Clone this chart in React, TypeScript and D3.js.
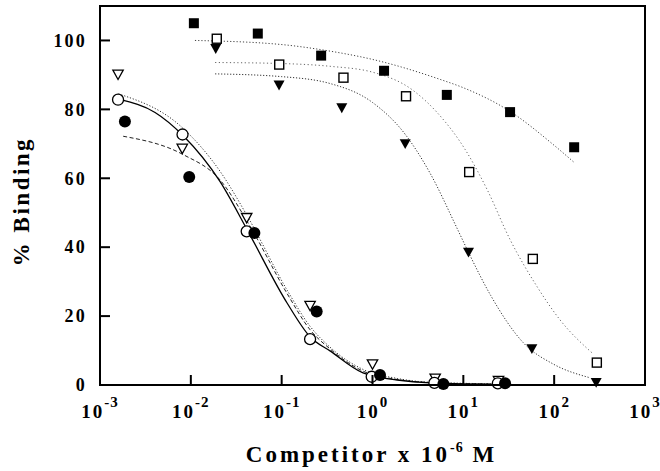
import React from "react";
import * as d3 from "d3";

const sqFilledX = [0.0108, 0.0546, 0.272, 1.34, 6.58, 32.7, 166];
const sqFilledY = [105, 102, 95.6, 91.2, 84.2, 79.2, 69];
const sqOpenX = [0.0193, 0.094, 0.479, 2.34, 11.6, 58.2, 295];
const sqOpenY = [100.5, 93, 89.2, 83.8, 61.8, 36.6, 6.5];
const triFilledX = [0.0188, 0.0936, 0.459, 2.29, 11.4, 56.8, 290];
const triFilledY = [97.6, 87, 80.4, 70, 38.5, 10.5, 0.7];
const triOpenX = [0.00158, 0.00805, 0.0412, 0.2055, 1.0, 4.9, 24.4];
const triOpenY = [90.1, 68.6, 48.5, 23, 6, 1.9, 1.2];
const circOpenX = [0.00158, 0.0081, 0.0412, 0.2055, 0.98, 4.8, 24];
const circOpenY = [82.8, 72.7, 44.6, 13.3, 2.4, 0.6, 0.5];
const circFilledX = [0.00188, 0.0096, 0.0501, 0.243, 1.21, 6.03, 28.8];
const circFilledY = [76.5, 60.4, 44.1, 21.3, 2.9, 0.3, 0.5];

// fitted curves
const fitSqFilledX = [0.0111, 0.1009, 0.341, 1.0, 5.55, 9.95, 32.7, 97.5, 166];
const fitSqFilledY = [100, 98.8, 96.9, 94.5, 88.7, 86.3, 79.4, 69.8, 64.6];
const fitSqOpenX = [0.0185, 0.1, 0.341, 1.0, 2.8, 5.14, 10.5, 18.3, 32.7, 65, 116, 262];
const fitSqOpenY = [93.6, 93.3, 92.5, 90.8, 85.5, 79.1, 68.3, 56.7, 42.2, 28.5, 18.9, 9.3];
const fitTriFilledX = [0.0185, 0.1, 0.341, 1.0, 2.3, 4.3, 8.7, 11.4, 20, 46, 99, 240];
const fitTriFilledY = [90.3, 89.5, 87.5, 82, 72.7, 61.5, 45, 38.5, 26, 12.2, 6, 2.2];
const fitCircOpenX = [0.00166, 0.00404, 0.0082, 0.021, 0.0416, 0.1147, 0.206, 0.341, 0.787, 1.87, 4.31, 32.7];
const fitCircOpenY = [82.8, 79.1, 72.4, 59.0, 45.1, 23.8, 13.95, 9.9, 3.5, 1.45, 0.6, 0.15];
const fitTriOpenX = [0.0016, 0.0082, 0.021, 0.043, 0.115, 0.206, 0.34, 0.79, 1.87, 4.3, 32];
const fitTriOpenY = [84.5, 74.5, 62, 48.5, 27.5, 17, 11, 4.5, 1.9, 0.8, 0.3];
const fitCircFilledX = [0.0018, 0.0082, 0.021, 0.045, 0.115, 0.206, 0.34, 0.79, 1.87, 4.3, 32];
const fitCircFilledY = [72.2, 66.9, 59.5, 46, 26.5, 16, 10.5, 4, 1.6, 0.7, 0.2];

const xTickExp = [-3, -2, -1, 0, 1, 2, 3];
const yTicks = [0, 20, 40, 60, 80, 100];

const W = 660, H = 471;
const m = { left: 100, right: 15, top: 6, bottom: 86 };

const font = "'Liberation Serif', 'DejaVu Serif', serif";

const App = () => {
  const x = d3.scaleLog().domain([1e-3, 1e3]).range([m.left, W - m.right]);
  const y = d3.scaleLinear().domain([0, 110]).range([H - m.bottom, m.top]);

  const zip = (xs: number[], ys: number[]) => xs.map((v, i) => [v, ys[i]] as [number, number]);
  const line = d3
    .line<[number, number]>()
    .x((d) => x(d[0]))
    .y((d) => y(d[1]))
    .curve(d3.curveMonotoneX);

  const curves = [
    { d: zip(fitSqFilledX, fitSqFilledY), dash: "1.2,2", color: "#444", w: 1 },
    { d: zip(fitSqOpenX, fitSqOpenY), dash: "1.2,2.5", color: "#666", w: 1 },
    { d: zip(fitTriFilledX, fitTriFilledY), dash: "1.2,1.8", color: "#333", w: 1 },
    { d: zip(fitTriOpenX, fitTriOpenY), dash: "1.2,1.8", color: "#333", w: 1 },
    { d: zip(fitCircFilledX, fitCircFilledY), dash: "4,2.5", color: "#222", w: 1 },
    { d: zip(fitCircOpenX, fitCircOpenY), dash: null, color: "#000", w: 1.3 },
  ];

  const tri = (cx: number, cy: number, s: number) =>
    `M${cx - s},${cy - s * 0.85}L${cx + s},${cy - s * 0.85}L${cx},${cy + s * 0.95}Z`;

  const x0 = m.left, x1 = W - m.right, y0 = m.top, y1 = H - m.bottom;

  return (
    <svg width={W} height={H} style={{ position: "absolute", left: 0, top: 0, background: "#fff" }}>
      {/* fitted curves */}
      {curves.map((c, i) => (
        <path
          key={i}
          d={line(c.d) || ""}
          fill="none"
          stroke={c.color}
          strokeWidth={c.w}
          strokeDasharray={c.dash || undefined}
        />
      ))}

      {/* markers */}
      {zip(sqFilledX, sqFilledY).map((d, i) => (
        <rect key={"sf" + i} x={x(d[0]) - 5} y={y(d[1]) - 5} width={10} height={10} fill="#000" />
      ))}
      {zip(sqOpenX, sqOpenY).map((d, i) => (
        <rect key={"so" + i} x={x(d[0]) - 4.5} y={y(d[1]) - 4.5} width={9} height={9} fill="#fff" stroke="#000" strokeWidth={1.4} />
      ))}
      {zip(triFilledX, triFilledY).map((d, i) => (
        <path key={"tf" + i} d={tri(x(d[0]), y(d[1]), 5.5)} fill="#000" />
      ))}
      {zip(triOpenX, triOpenY).map((d, i) => (
        <path key={"to" + i} d={tri(x(d[0]), y(d[1]), 5.2)} fill="#fff" stroke="#000" strokeWidth={1.3} />
      ))}
      {zip(circOpenX, circOpenY).map((d, i) => (
        <circle key={"co" + i} cx={x(d[0])} cy={y(d[1])} r={5.5} fill="#fff" stroke="#000" strokeWidth={1.3} />
      ))}
      {zip(circFilledX, circFilledY).map((d, i) => (
        <circle key={"cf" + i} cx={x(d[0])} cy={y(d[1])} r={6} fill="#000" />
      ))}

      {/* frame */}
      <rect x={x0} y={y0} width={x1 - x0} height={y1 - y0} fill="none" stroke="#000" strokeWidth={2} />

      {/* y ticks (inward) */}
      {yTicks.map((t) => (
        <g key={"yt" + t}>
          {t > 0 && <line x1={x0} x2={x0 + 10} y1={y(t)} y2={y(t)} stroke="#000" strokeWidth={2} />}
          <text
            x={x0 - 13}
            y={y(t)}
            dy="0.35em"
            textAnchor="end"
            fontFamily={font}
            fontWeight="bold"
            fontSize={18}
            letterSpacing={2.2}
          >
            {t}
          </text>
        </g>
      ))}

      {/* x ticks (inward) */}
      {xTickExp.map((e) => {
        const px = x(Math.pow(10, e));
        return (
          <g key={"xt" + e}>
            {e > -3 && e < 3 && (
              <line x1={px} x2={px} y1={y1} y2={y1 - 10} stroke="#000" strokeWidth={2} />
            )}
            <text
              x={px}
              y={y1 + 33}
              textAnchor="middle"
              fontFamily={font}
              fontWeight="bold"
              fontSize={19}
              letterSpacing={2}
            >
              10
              <tspan dy={-11} fontSize={15} letterSpacing={1}>
                {e < 0 ? "-" + Math.abs(e) : String(e)}
              </tspan>
            </text>
          </g>
        );
      })}

      {/* axis titles */}
      <text
        x={(x0 + x1) / 2 - 1}
        y={462}
        textAnchor="middle"
        fontFamily={font}
        fontWeight="bold"
        fontSize={23}
        letterSpacing={3}
      >
        Competitor x 10
        <tspan dy={-10} fontSize={14} letterSpacing={1}>-6</tspan>
        <tspan dy={10}> M</tspan>
      </text>
      <text
        transform={`translate(29, ${(y0 + y1) / 2 + 6}) rotate(-90)`}
        textAnchor="middle"
        fontFamily={font}
        fontWeight="bold"
        fontSize={23}
        letterSpacing={2.5}
      >
        % Binding
      </text>
    </svg>
  );
};

export default App;
